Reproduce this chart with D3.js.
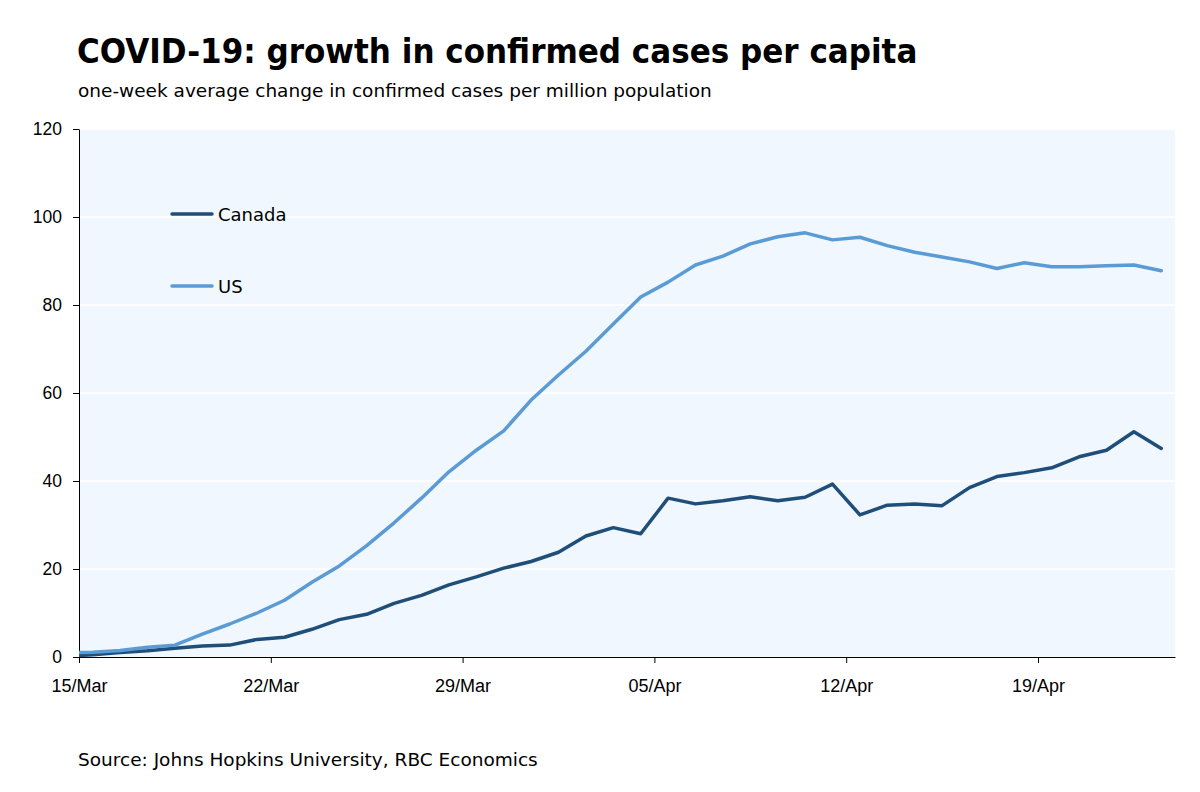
<!DOCTYPE html>
<html>
<head>
<meta charset="utf-8">
<script src="https://cdn.jsdelivr.net/npm/d3@7"></script>
<style>
  body { margin: 0; background: #fff; }
  svg { font-family: "DejaVu Sans", sans-serif; }
</style>
</head>
<body>
<div id="chart"></div>
<script>
// DATA
const dates = [
  "2020-03-14", "2020-03-15", "2020-03-16", "2020-03-17", "2020-03-18", "2020-03-19", "2020-03-20",
  "2020-03-21", "2020-03-22", "2020-03-23", "2020-03-24", "2020-03-25", "2020-03-26", "2020-03-27",
  "2020-03-28", "2020-03-29", "2020-03-30", "2020-03-31", "2020-04-01", "2020-04-02", "2020-04-03",
  "2020-04-04", "2020-04-05", "2020-04-06", "2020-04-07", "2020-04-08", "2020-04-09", "2020-04-10",
  "2020-04-11", "2020-04-12", "2020-04-13", "2020-04-14", "2020-04-15", "2020-04-16", "2020-04-17",
  "2020-04-18", "2020-04-19", "2020-04-20", "2020-04-21", "2020-04-22", "2020-04-23"
];
const canada = [
  0.2, 0.5, 1.0, 1.4, 2.0, 2.5, 2.7, 4.0, 4.5, 6.3, 8.5, 9.7, 12.2, 14.0,
  16.4, 18.2, 20.2, 21.7, 23.8, 27.5, 29.4, 28.0, 36.1, 34.8, 35.5, 36.4, 35.5,
  36.3, 39.3, 32.3, 34.5, 34.8, 34.4, 38.5, 41.0, 41.9, 43.0, 45.5, 47.0, 51.2, 47.4
];
const us = [
  0.9, 1.1, 1.5, 2.2, 2.7, 5.2, 7.5, 10.0, 12.9, 17.0, 20.7, 25.3, 30.5, 36.1,
  42.1, 47.0, 51.4, 58.4, 64.1, 69.5, 75.7, 81.8, 85.2, 89.1, 91.1, 93.9, 95.5,
  96.4, 94.8, 95.4, 93.5, 92.0, 90.9, 89.8, 88.3, 89.6, 88.7, 88.7, 88.9, 89.1, 87.8
];
const xTickLabels = ["15/Mar", "22/Mar", "29/Mar", "05/Apr", "12/Apr", "19/Apr"];
const yTicks = [0, 20, 40, 60, 80, 100, 120];
const seriesNames = ["Canada", "US"];
const seriesColors = ["#1f4e79", "#5b9bd5"];

// SETUP
const width = 1200;
const height = 792;
const plot = { left: 79, right: 1175, top: 129, bottom: 657 };

const parse = d3.timeParse("%Y-%m-%d");
const fmt = d3.timeFormat("%d/%b");

const svg = d3.select("#chart")
  .append("svg")
  .attr("width", width)
  .attr("height", height)
  .attr("viewBox", [0, 0, width, height]);

const x = d3.scaleTime()
  .domain([parse("2020-03-15"), parse("2020-04-24")])
  .range([plot.left, plot.right]);

const y = d3.scaleLinear()
  .domain([0, 120])
  .range([plot.bottom, plot.top]);

// plot background
svg.append("rect")
  .attr("x", plot.left)
  .attr("y", plot.top)
  .attr("width", plot.right - plot.left)
  .attr("height", plot.bottom - plot.top)
  .attr("fill", "#f0f7fe");

// grid lines
svg.append("g")
  .selectAll("line")
  .data(yTicks.slice(1))
  .join("line")
  .attr("x1", plot.left)
  .attr("x2", plot.right)
  .attr("y1", d => y(d))
  .attr("y2", d => y(d))
  .attr("stroke", "#fff")
  .attr("stroke-width", 1.5);

// y axis
svg.append("g")
  .attr("transform", `translate(${plot.left},0)`)
  .call(d3.axisLeft(y).tickValues(yTicks).tickSize(6).tickPadding(11).tickSizeOuter(0))
  .call(g => g.selectAll("line, path").attr("stroke", "#000"))
  .call(g => g.selectAll("text").attr("font-size", 17.5).attr("fill", "#000"));

// x axis
const tickDates = xTickLabels.map(s => d3.timeParse("%d/%b/%Y")(s + "/2020"));
svg.append("g")
  .attr("transform", `translate(0,${plot.bottom})`)
  .call(d3.axisBottom(x).tickValues(tickDates).tickFormat(fmt).tickSize(6).tickPadding(16).tickSizeOuter(0))
  .call(g => g.selectAll("line, path").attr("stroke", "#000"))
  .call(g => g.selectAll("text").attr("font-size", 18).attr("fill", "#000"));

// lines
svg.append("defs").append("clipPath").attr("id", "clip")
  .append("rect")
  .attr("x", plot.left)
  .attr("y", plot.top - 10)
  .attr("width", plot.right - plot.left)
  .attr("height", plot.bottom - plot.top + 10);

const pts = dates.map(parse);
const line = d3.line()
  .x((d, i) => x(d3.timeHour.offset(pts[i], 12)))
  .y(d => y(d));

[canada, us].forEach((vals, k) => {
  svg.append("path")
    .datum(vals)
    .attr("clip-path", "url(#clip)")
    .attr("fill", "none")
    .attr("stroke", seriesColors[k])
    .attr("stroke-width", 3.5)
    .attr("stroke-linejoin", "round")
    .attr("stroke-linecap", "round")
    .attr("d", line);
});

// legend
const legend = svg.append("g");
seriesNames.forEach((name, k) => {
  const ly = 214 + k * 72;
  legend.append("line")
    .attr("x1", 172).attr("x2", 212)
    .attr("y1", ly).attr("y2", ly)
    .attr("stroke", seriesColors[k])
    .attr("stroke-width", 3.5)
    .attr("stroke-linecap", "round");
  legend.append("text")
    .attr("x", 218)
    .attr("y", ly + 7)
    .attr("font-size", 18)
    .text(name);
});

// titles
svg.append("text")
  .attr("x", 77)
  .attr("y", 63)
  .attr("font-family", "'DejaVu Sans Condensed', 'DejaVu Sans', sans-serif")
  .attr("font-size", 34.5)
  .attr("font-weight", "bold")
  .text("COVID-19: growth in confirmed cases per capita");

svg.append("text")
  .attr("x", 78)
  .attr("y", 97)
  .attr("font-size", 18.5)
  .text("one-week average change in confirmed cases per million population");

svg.append("text")
  .attr("x", 78)
  .attr("y", 766)
  .attr("font-size", 18.5)
  .text("Source: Johns Hopkins University, RBC Economics");
</script>
</body>
</html>
